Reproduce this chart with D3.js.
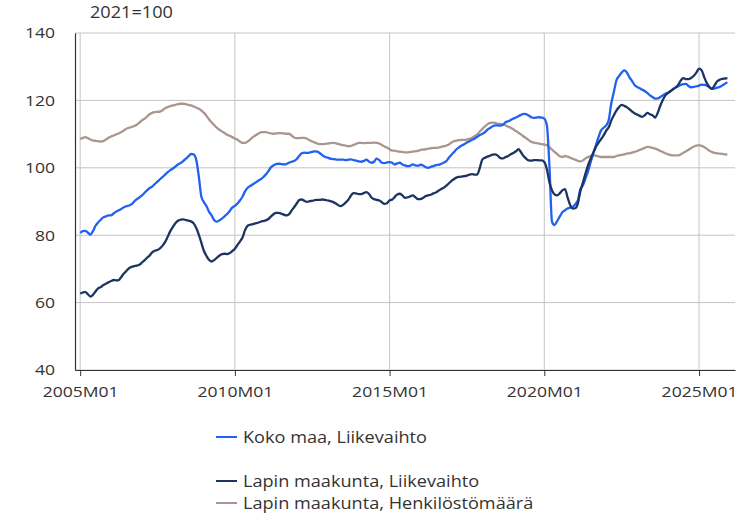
<!DOCTYPE html>
<html>
<head>
<meta charset="utf-8">
<script src="https://cdn.jsdelivr.net/npm/d3@7"></script>
<style>
  body { margin: 0; background: #fff; }
  svg text { font-family: "Open Sans", "Noto Sans", sans-serif; fill: #333; }
</style>
</head>
<body>
<svg id="chart"></svg>
<script>
// series names as in the legend
var seriesNames = ["Koko maa, Liikevaihto", "Lapin maakunta, Liikevaihto", "Lapin maakunta, Henkilöstömäärä"];
var seriesColors = ["#2160f0", "#1d3461", "#a9968f"];

// monthly index values 2005M01 .. 2025M12, one row per year
var kokoMaa = [
  80.7, 81.2, 81.3, 80.8, 80.2, 81.2, 82.8, 83.8, 84.6, 85.3, 85.6, 85.9,
  85.9, 86.5, 87.0, 87.4, 87.8, 88.3, 88.6, 88.8, 89.2, 90.0, 90.7, 91.2,
  91.8, 92.6, 93.3, 94.0, 94.4, 95.2, 95.9, 96.6, 97.3, 98.0, 98.7, 99.3,
  99.8, 100.4, 101.0, 101.4, 102.0, 102.7, 103.4, 104.1, 104.0, 102.5, 97.5, 91.5,
  89.8, 88.6, 87.0, 85.9, 84.5, 84.0, 84.4, 84.9, 85.6, 86.3, 87.2, 88.2,
  88.7, 89.4, 90.3, 91.4, 93.0, 94.1, 94.6, 95.1, 95.6, 96.1, 96.6, 97.2,
  98.0, 99.0, 100.1, 100.7, 101.1, 101.2, 101.1, 101.0, 101.1, 101.5, 101.8, 102.0,
  102.6, 103.6, 104.3, 104.5, 104.4, 104.5, 104.7, 104.9, 104.8, 104.3, 103.7, 103.2,
  103.0, 102.7, 102.6, 102.5, 102.4, 102.4, 102.4, 102.3, 102.4, 102.5, 102.3, 102.1,
  101.9, 101.8, 102.0, 102.4, 101.9, 101.5, 101.8, 102.7, 102.3, 101.5, 101.4, 101.6,
  101.7, 101.5, 101.0, 101.3, 101.5, 101.0, 100.7, 100.5, 100.6, 101.0, 100.7, 100.6,
  100.9, 100.7, 100.2, 100.0, 100.3, 100.5, 100.8, 100.9, 101.2, 101.5, 102.0, 103.0,
  103.9, 104.7, 105.5, 106.1, 106.6, 107.0, 107.5, 107.9, 108.3, 108.7, 109.2, 109.7,
  110.1, 110.6, 111.3, 111.8, 112.3, 112.6, 112.6, 112.5, 112.8, 113.5, 113.8, 114.2,
  114.6, 114.9, 115.3, 115.7, 116.0, 115.9, 115.5, 115.0, 114.8, 114.9, 115.0, 114.9,
  114.6, 112.5, 101.0, 84.0, 83.0, 84.2, 85.5, 86.8, 87.4, 87.9, 88.2, 88.4,
  89.2, 90.4, 93.6, 94.8, 96.8, 99.0, 101.7, 104.2, 106.7, 109.0, 111.1, 111.9,
  112.6, 114.3, 119.0, 122.5, 125.9, 127.2, 128.2, 128.9, 128.3, 126.9, 125.8, 124.6,
  124.0, 123.6, 123.2, 122.8, 122.2, 121.5, 121.0, 120.5, 120.6, 121.0, 121.5, 122.0,
  122.3, 122.8, 123.4, 123.8, 124.2, 124.6, 124.8, 124.9, 124.2, 123.9, 124.0, 124.2,
  124.4, 124.7, 124.6, 124.4, 124.0, 123.5, 123.5, 123.8, 124.0, 124.4, 124.9, 125.4
];

var lappiLiikevaihto = [
  62.7, 63.0, 63.2, 62.5, 61.8, 62.3, 63.3, 64.2, 64.6, 65.2, 65.6, 66.0,
  66.4, 66.7, 66.6, 66.7, 67.6, 68.6, 69.4, 70.2, 70.6, 70.8, 71.0, 71.2,
  71.9, 72.6, 73.3, 74.0, 74.9, 75.4, 75.6, 76.1, 76.9, 78.0, 79.6, 81.2,
  82.5, 83.6, 84.3, 84.6, 84.7, 84.5, 84.3, 84.1, 83.5, 82.2, 80.2, 77.8,
  75.3, 73.8, 72.7, 72.2, 72.6, 73.3, 73.9, 74.4, 74.5, 74.4, 74.7, 75.3,
  76.0, 77.1, 78.1, 79.3, 81.5, 82.8, 83.1, 83.3, 83.5, 83.7, 84.0, 84.2,
  84.4, 84.8, 85.5, 86.2, 86.6, 86.6, 86.4, 86.1, 85.9, 86.2, 87.3, 88.3,
  89.4, 90.5, 90.6, 90.2, 89.9, 90.1, 90.2, 90.4, 90.5, 90.5, 90.6, 90.5,
  90.3, 90.1, 89.9, 89.5, 89.0, 88.6, 89.0, 89.7, 90.5, 91.7, 92.5, 92.4,
  92.2, 92.2, 92.5, 92.8, 92.3, 91.2, 90.7, 90.5, 90.3, 89.8, 89.3, 89.5,
  90.3, 90.6, 91.3, 92.1, 92.3, 91.8, 91.1, 91.2, 91.5, 91.8, 91.3, 90.7,
  90.7, 91.1, 91.6, 91.8, 92.0, 92.4, 92.7, 93.2, 93.7, 94.1, 94.7, 95.4,
  96.1, 96.7, 97.1, 97.3, 97.4, 97.5, 97.7, 98.0, 98.1, 98.0, 98.0, 100.0,
  102.5, 103.0, 103.3, 103.6, 103.9, 104.0, 103.6, 102.9, 102.8, 103.2, 103.5, 104.0,
  104.4, 104.9, 105.5, 104.6, 103.5, 102.7, 102.2, 102.1, 102.3, 102.3, 102.2, 102.2,
  101.7, 99.5, 95.8, 93.3, 92.1, 91.8, 92.4, 93.3, 93.7, 91.3, 89.0, 87.9,
  88.0, 89.5, 93.0, 95.6, 98.3, 100.8, 102.7, 104.5, 106.2, 107.4, 108.5, 109.6,
  111.0, 112.1, 114.0, 115.6, 117.0, 118.0, 118.7, 118.4, 118.0, 117.4, 116.7, 116.2,
  115.8, 115.4, 115.1, 115.6, 116.3, 115.9, 115.6, 114.9, 116.3, 118.4, 120.2, 121.5,
  122.2, 122.8, 123.3, 123.9, 124.7, 126.0, 126.6, 126.3, 126.3, 126.7, 127.3, 128.3,
  129.4, 128.9, 127.0, 125.2, 124.0, 123.4, 124.4, 125.6, 126.1, 126.4, 126.5, 126.6
];

var lappiHenkilosto = [
  108.6, 108.9, 109.1, 108.8, 108.4, 108.1, 108.0, 107.9, 107.8, 107.9, 108.4, 108.9,
  109.3, 109.6, 109.9, 110.2, 110.6, 111.1, 111.6, 111.9, 112.1, 112.4, 112.8, 113.4,
  114.1, 114.6, 115.2, 115.9, 116.3, 116.5, 116.6, 116.7, 117.1, 117.7, 118.0, 118.3,
  118.5, 118.7, 118.9, 119.0, 119.0, 118.9, 118.7, 118.5, 118.2, 117.9, 117.5, 117.0,
  116.3, 115.4, 114.4, 113.5, 112.7, 111.9, 111.3, 110.8, 110.3, 109.8, 109.5, 109.1,
  108.7, 108.3, 107.8, 107.4, 107.4, 107.8, 108.4, 109.1, 109.6, 110.1, 110.5, 110.6,
  110.6, 110.4, 110.2, 110.1, 110.2, 110.3, 110.3, 110.2, 110.1, 110.1, 109.6, 109.0,
  108.8, 108.8, 108.9, 108.9, 108.6, 108.2, 107.8, 107.5, 107.2, 107.0, 107.0, 107.1,
  107.2, 107.3, 107.4, 107.3, 107.1, 106.9, 106.7, 106.6, 106.4, 106.5, 106.8, 107.1,
  107.4, 107.4, 107.3, 107.4, 107.4, 107.4, 107.5, 107.4, 107.2, 106.8, 106.3, 106.0,
  105.5, 105.1, 105.1, 104.9, 104.8, 104.7, 104.6, 104.6, 104.7, 104.8, 104.9, 105.0,
  105.3, 105.4, 105.5, 105.7, 105.8, 105.9, 105.9, 106.0, 106.2, 106.4, 106.6, 106.9,
  107.5, 107.9, 108.1, 108.2, 108.3, 108.3, 108.4, 108.6, 108.9, 109.4, 109.9, 110.8,
  111.6, 112.3, 112.9, 113.3, 113.4, 113.3, 113.1, 113.0, 112.9, 112.6, 112.2, 111.9,
  111.4, 110.9, 110.4, 109.9, 109.3, 108.8, 108.2, 107.7, 107.5, 107.3, 107.2, 107.0,
  106.9, 106.7, 106.1, 105.4, 104.7, 104.1, 103.4, 103.2, 103.5, 103.3, 103.0, 102.7,
  102.4, 102.1, 101.9, 102.2, 102.8, 103.2, 103.5, 103.7, 103.6, 103.4, 103.2, 103.2,
  103.2, 103.2, 103.2, 103.2, 103.5, 103.7, 103.8, 104.0, 104.2, 104.3, 104.5, 104.7,
  105.0, 105.3, 105.6, 105.9, 106.2, 106.1, 105.9, 105.7, 105.4, 105.0, 104.7, 104.3,
  104.0, 103.8, 103.7, 103.7, 103.7, 104.0, 104.5, 104.9, 105.4, 105.9, 106.3, 106.6,
  106.7, 106.5, 106.2, 105.7, 105.1, 104.7, 104.4, 104.3, 104.2, 104.1, 104.0, 103.9
];

var yTicks = [40, 60, 80, 100, 120, 140];
var xTickYears = [2005, 2010, 2015, 2020, 2025];
var unitLabel = "2021=100";

var width = 751, height = 513;
var margin = {top: 33, right: 16, bottom: 143, left: 75};
var stretch = 1.17;   // the original text is a bit wider than the font

var svg = d3.select("#chart").attr("width", width).attr("height", height);

// month index 0 = 2005M01
function monthDate(i){ return new Date(2005, i, 1); }

var x = d3.scaleTime()
  .domain([new Date(2004, 10, 1), new Date(2026, 2, 1)])
  .range([margin.left, width - margin.right]);
var y = d3.scaleLinear()
  .domain([40, 140])
  .range([height - margin.bottom, margin.top]);

var plotBottom = height - margin.bottom;

//places a text at (px,py) widened by the stretch factor
function wideText(parent, px, py, size, str, anchor){
  return parent.append("text")
    .attr("transform", "translate(" + px + "," + py + ") scale(" + stretch + ",1)")
    .attr("font-size", size)
    .attr("text-anchor", anchor || "start")
    .text(str);
}

// grid
var grid = svg.append("g");
grid.selectAll(".hgrid").data(yTicks).enter().append("line")
  .attr("x1", margin.left).attr("x2", width - margin.right)
  .attr("y1", function(d){ return y(d); }).attr("y2", function(d){ return y(d); })
  .attr("stroke", "#c4c4c4").attr("stroke-width", 1);
grid.selectAll(".vgrid").data(xTickYears).enter().append("line")
  .attr("x1", function(d){ return x(new Date(d, 0, 1)); })
  .attr("x2", function(d){ return x(new Date(d, 0, 1)); })
  .attr("y1", margin.top).attr("y2", plotBottom)
  .attr("stroke", "#c4c4c4").attr("stroke-width", 1);

// axes
var yAxis = d3.axisLeft(y).tickValues(yTicks).tickSize(0).tickPadding(20);
svg.append("g").attr("transform", "translate(" + margin.left + ",0)")
  .call(yAxis)
  .call(function(g){
    g.select(".domain").attr("stroke", "#333").attr("stroke-width", 1.2);
    g.selectAll(".tick text")
      .attr("font-size", 15).attr("fill", "#333")
      .attr("font-family", "'Open Sans', sans-serif")
      .attr("x", -20 / stretch)
      .attr("transform", "scale(" + stretch + ",1)");
  });

var xAxis = d3.axisBottom(x)
  .tickValues(xTickYears.map(function(yr){ return new Date(yr, 0, 1); }))
  .tickFormat(function(d){ return d.getFullYear() + "M01"; })
  .tickSize(6).tickSizeOuter(0).tickPadding(10);
svg.append("g").attr("transform", "translate(0," + plotBottom + ")")
  .call(xAxis)
  .call(function(g){
    g.select(".domain").attr("stroke", "#333").attr("stroke-width", 1.2);
    g.selectAll(".tick line").attr("stroke", "#333");
    g.selectAll(".tick text")
      .attr("font-size", 15).attr("fill", "#333")
      .attr("font-family", "'Open Sans', sans-serif")
      .attr("transform", "scale(" + stretch + ",1)");
  });

wideText(svg, 90, 18, 15.5, unitLabel);

// lines
var allSeries = [kokoMaa, lappiLiikevaihto, lappiHenkilosto];
var line = d3.line()
  .x(function(d, i){ return x(monthDate(i)); })
  .y(function(d){ return y(d); })
  .curve(d3.curveMonotoneX);

// draw brown first so the turnover lines sit on top
[2, 0, 1].forEach(function(k){
  svg.append("path")
    .datum(allSeries[k])
    .attr("d", line)
    .attr("fill", "none")
    .attr("stroke", seriesColors[k])
    .attr("stroke-width", 2.3)
    .attr("stroke-linejoin", "round");
});

// legend
var legendRows = [437, 481, 503];
var legend = svg.append("g");
seriesNames.forEach(function(name, k){
  legend.append("line")
    .attr("x1", 216).attr("x2", 237)
    .attr("y1", legendRows[k]).attr("y2", legendRows[k])
    .attr("stroke", seriesColors[k]).attr("stroke-width", 2);
  wideText(legend, 243, legendRows[k] + 5.5, 15.5, name);
});
</script>
</body>
</html>
